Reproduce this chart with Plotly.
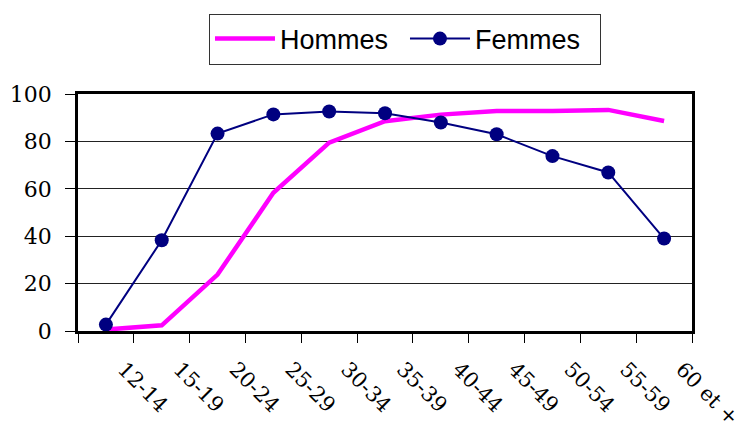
import plotly.graph_objects as go

categories = ["12-14", "15-19", "20-24", "25-29", "30-34", "35-39",
              "40-44", "45-49", "50-54", "55-59", "60 et +"]
hommes = [0.6, 2.4, 23.8, 58.3, 79.5, 88.5, 91.3, 92.8, 92.8, 93.3, 88.6]
femmes = [2.7, 38.3, 83.3, 91.4, 92.6, 91.9, 88.0, 83.0, 73.8, 66.9, 39.0]
y_ticks = [0, 20, 40, 60, 80, 100]

SERIF = "DejaVu Serif"

fig = go.Figure()
fig.add_trace(go.Scatter(
    x=categories, y=hommes, name="Hommes", mode="lines",
    line=dict(color="#FF00FF", width=4.5), cliponaxis=False,
))
fig.add_trace(go.Scatter(
    x=categories, y=femmes, name="Femmes", mode="lines+markers",
    line=dict(color="#000080", width=2),
    marker=dict(color="#000080", size=14, symbol="circle"),
    cliponaxis=False,
))

fig.update_layout(
    width=735, height=423,
    margin=dict(l=78, r=43, t=94, b=92, autoexpand=False),
    paper_bgcolor="white", plot_bgcolor="white",
    showlegend=True,
    legend=dict(
        orientation="h", xref="container", x=0.551, xanchor="center",
        yref="container", y=0.968, yanchor="top",
        font=dict(family="Liberation Sans", size=27, color="black"),
        bordercolor="#333333", borderwidth=1, bgcolor="white",
        itemwidth=60, tracegroupgap=0, entrywidth=120,
    ),
    xaxis=dict(
        type="category", range=[-0.5, 10.5], automargin=False,
        showline=True, linecolor="black", linewidth=2.5, mirror=True,
        ticks="outside", tickson="boundaries", ticklen=9, tickcolor="black",
        tickwidth=1, showgrid=False, tickangle=45,
        tickfont=dict(family=SERIF, size=21, color="black"),
        ticklabelstandoff=15, ticklabelshift=18,
    ),
    yaxis=dict(
        range=[0, 100], tickvals=y_ticks, automargin=False,
        showline=True, linecolor="black", linewidth=2.5, mirror=True,
        ticks="outside", ticklen=10, tickcolor="black", tickwidth=1,
        showgrid=True, gridcolor="#222222", gridwidth=1,
        tickfont=dict(family=SERIF, size=22, color="black"),
        ticklabelstandoff=9, zeroline=False,
    ),
)

fig.write_html("out.html", config={"displayModeBar": False},
               post_script="document.body.style.margin='0';")
